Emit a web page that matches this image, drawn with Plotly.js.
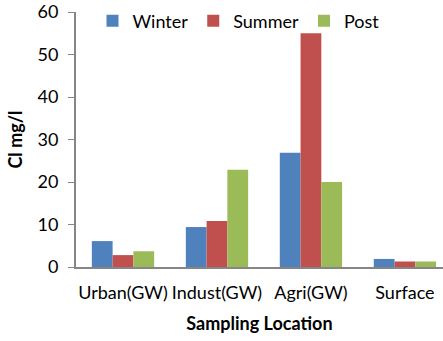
<!DOCTYPE html>
<html>
<head>
<meta charset="utf-8">
<script src="https://cdn.plot.ly/plotly-3.0.1.min.js"></script>
<style>html,body{margin:0;padding:0;background:#fff;}#chart{width:443px;height:341px;}</style>
</head>
<body>
<div id="chart"></div>
<script>
const categories = ["Urban(GW)", "Indust(GW)", "Agri(GW)", "Surface"];
const winter = [6.1, 9.4, 26.9, 1.9];
const summer = [2.8, 10.8, 55, 1.3];
const post = [3.7, 22.9, 20, 1.3];
const seriesNames = ["Winter", "Summer", "Post"];
const colors = ["#4F81BD", "#C0504D", "#9BBB59"];
const yTicks = [0, 10, 20, 30, 40, 50, 60];

const font = "Lato, 'Open Sans', sans-serif";
const data = [winter, summer, post].map((vals, i) => ({
  type: "bar", x: categories, y: vals, name: seriesNames[i],
  marker: {color: colors[i], line: {width: 0}}
}));
const layout = {
  width: 443, height: 341,
  margin: {l: 76, r: 0, t: 12, b: 74},
  paper_bgcolor: "#fff", plot_bgcolor: "#fff",
  font: {family: font, color: "#000", size: 18},
  barmode: "group", bargap: 0.337, bargroupgap: 0,
  showlegend: true,
  legend: {orientation: "h", x: 0.045, xanchor: "left", y: 0.965, yanchor: "middle",
           font: {size: 18, family: font}, bgcolor: "rgba(0,0,0,0)",
           itemwidth: 30, tracegroupgap: 0},
  xaxis: {
    range: [-0.5, 3.405],
    showline: true, linecolor: "#868686", linewidth: 2, ticks: "",
    tickfont: {size: 18, family: font}, ticklabelstandoff: 8,
    title: {text: "<b>Sampling Location</b>", font: {size: 18, family: font}, standoff: 16},
    showgrid: false
  },
  yaxis: {
    range: [0, 60], tickvals: yTicks, showline: true, linecolor: "#868686", linewidth: 2,
    ticks: "outside", ticklen: 6, tickcolor: "#868686", showgrid: false, zeroline: false,
    tickfont: {size: 18, family: font}, ticklabelstandoff: 6,
    title: {text: "<b>Cl mg/l</b>", font: {size: 18, family: font}, standoff: 10}
  }
};
Plotly.newPlot("chart", data, layout, {displayModeBar: false, staticPlot: true});
</script>
</body>
</html>
